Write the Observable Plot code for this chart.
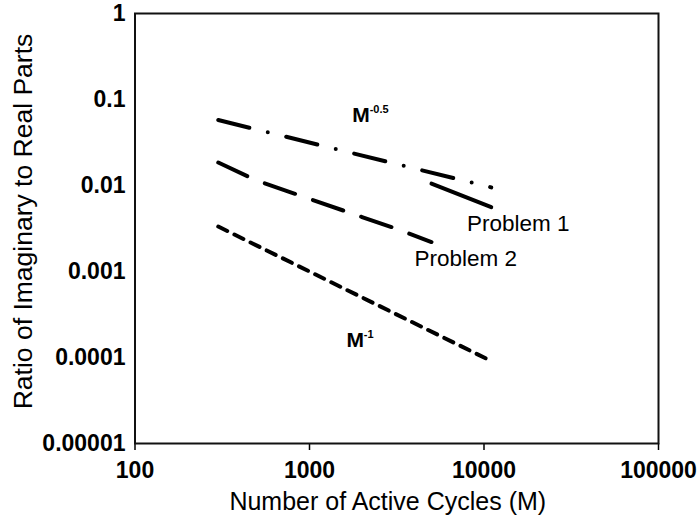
<!DOCTYPE html>
<html>
<head>
<meta charset="utf-8">
<script src="https://cdn.jsdelivr.net/npm/d3@7"></script>
<script src="https://cdn.jsdelivr.net/npm/@observablehq/plot@0.6"></script>
<style>
  html, body { margin: 0; padding: 0; background: #fff; }
</style>
</head>
<body>
<div id="chart"></div>
<script>
// ---- data ----
const xTicks = [100, 1000, 10000, 100000];
const xTickLabels = ["100", "1000", "10000", "100000"];
const yTicks = [1, 0.1, 0.01, 0.001, 0.0001, 0.00001];
const yTickLabels = ["1", "0.1", "0.01", "0.001", "0.0001", "0.00001"];

const refM = [300, 11000];
const refHalf = [0.0577, 0.0095];      // M^-0.5 reference line
const refOne = [0.00333, 0.0000909];   // M^-1 reference line

const p1M = [5000, 11000];
const p1V = [0.0105, 0.0056];          // Problem 1

const p2M = [300, 500, 1000, 2000, 3000, 5000];
const p2V = [0.0185, 0.0114, 0.0070, 0.0043, 0.00325, 0.0022]; // Problem 2

const labelNames = ["M", "M", "Problem 1", "Problem 2"];
const labelExp = ["-0.5", "-1", "", ""];
const labelM = [1760, 1630, 7980, 4000];
const labelV = [0.0545, 0.000132, 0.00294, 0.00115];

const xTitle = "Number of Active Cycles (M)";
const yTitle = "Ratio of Imaginary to Real Parts";

// ---- tables ----
const half = refM.map((m, i) => ({M: m, v: refHalf[i]}));
const one = refM.map((m, i) => ({M: m, v: refOne[i]}));
const prob1 = p1M.map((m, i) => ({M: m, v: p1V[i]}));
const prob2 = p2M.map((m, i) => ({M: m, v: p2V[i]}));
const labels = labelNames.map((t, i) => ({t, e: labelExp[i], M: labelM[i], v: labelV[i]}));
const mathLabels = labels.filter(d => d.e !== "");
const textLabels = labels.filter(d => d.e === "");

const font = "'Liberation Sans', Arial, Helvetica, sans-serif";
const lineStyle = {x: "M", y: "v", stroke: "black", strokeWidth: 4, strokeLinecap: "round", strokeLinejoin: "round"};

const chart = Plot.plot({
  width: 699,
  height: 520,
  marginLeft: 134.5,
  marginRight: 41,
  marginTop: 13,
  marginBottom: 77,
  style: {fontFamily: font, background: "#fff", color: "black"},
  x: {type: "log", domain: [100, 100000]},
  y: {type: "log", domain: [0.00001, 1]},
  marks: [
    Plot.axisX({ticks: xTicks, tickFormat: d => xTickLabels[xTicks.indexOf(d)], tickSize: 7, tickPadding: 11,
      fontSize: 23, fontWeight: "bold", label: null, stroke: "black", strokeWidth: 1.5}),
    Plot.axisY({ticks: yTicks, tickFormat: d => yTickLabels[yTicks.indexOf(d)], tickSize: 0, tickPadding: 9.5,
      fontSize: 23, fontWeight: "bold", label: null}),
    Plot.frame({stroke: "#111", strokeWidth: 2}),
    Plot.line(half, {...lineStyle, strokeDasharray: "32,19,0,19"}),
    Plot.line(one, {...lineStyle, strokeDasharray: "10,8"}),
    Plot.line(prob2, {...lineStyle, strokeDasharray: "32,19"}),
    Plot.line(prob1, {...lineStyle}),
    Plot.text(mathLabels, {x: "M", y: "v", text: "t", textAnchor: "start", lineAnchor: "bottom",
      fontSize: 21, fontWeight: "bold", fill: "black"}),
    Plot.text(mathLabels, {x: "M", y: "v", text: "e", textAnchor: "start", lineAnchor: "bottom",
      dx: 17.3, dy: -8.7, fontSize: 11, fontWeight: "bold", fill: "black"}),
    Plot.text(textLabels, {x: "M", y: "v", text: "t", textAnchor: "start", lineAnchor: "bottom",
      fontSize: 22.5, fill: "black"}),
    Plot.text([xTitle], {frameAnchor: "bottom", textAnchor: "middle", lineAnchor: "middle", dy: 58, dx: -9, fontSize: 25, fill: "black"}),
    Plot.text([yTitle], {frameAnchor: "left", textAnchor: "middle", lineAnchor: "middle", rotate: -90, dx: -111, dy: -7, fontSize: 26.5, fill: "black"})
  ]
});
document.getElementById("chart").appendChild(chart);
</script>
</body>
</html>
